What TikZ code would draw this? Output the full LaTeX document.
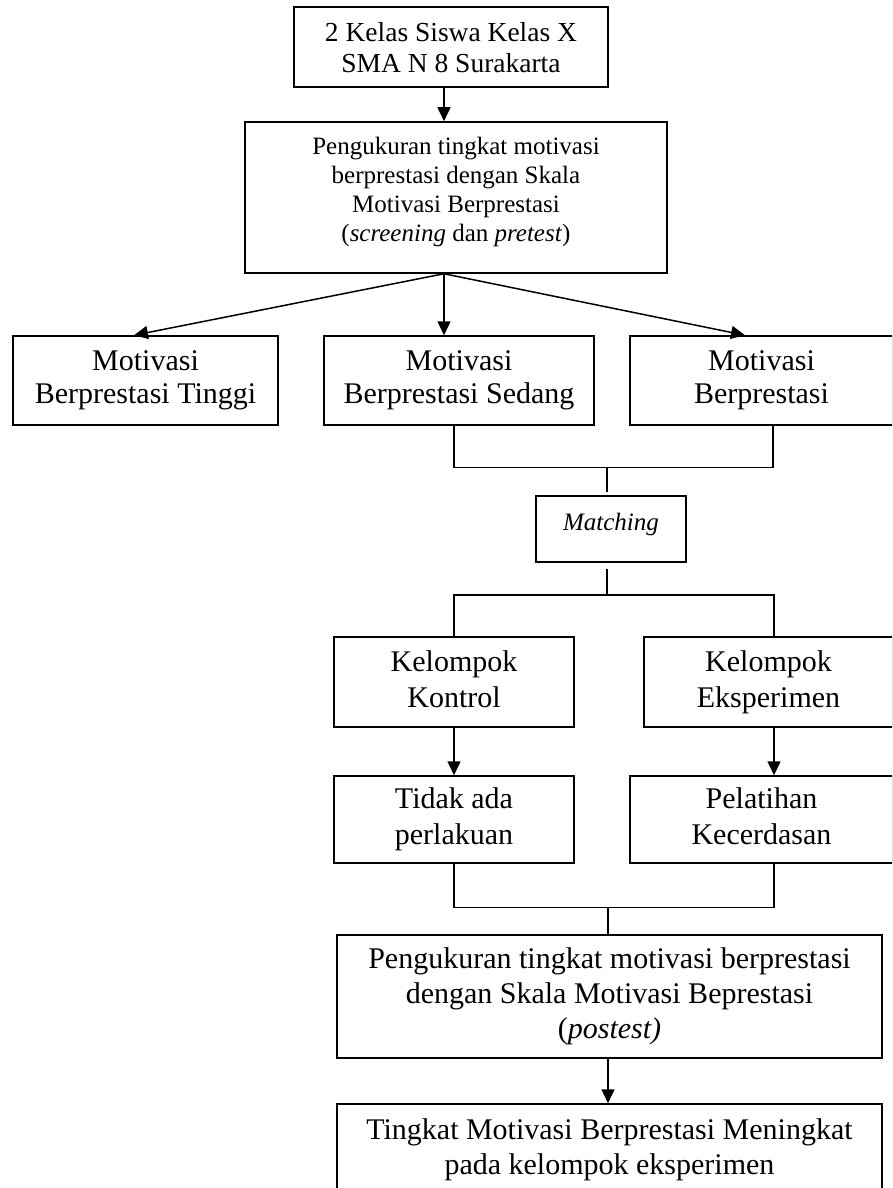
\documentclass[tikz,border=0pt]{standalone}
\usepackage{fontspec}
\setmainfont{Liberation Serif}
\usetikzlibrary{arrows.meta,calc}
\begin{document}
\begin{tikzpicture}[x=1pt,y=-1pt,
  box/.style={draw,line width=1.5pt,align=center,inner sep=0pt},
  ln/.style={line width=1.5pt},
  arr/.style={ln,-{Triangle[length=14pt,width=13pt]}},
  fa/.style={font=\fontsize{27.5}{31}\selectfont},
  fb/.style={font=\fontsize{25}{29}\selectfont},
  fc/.style={font=\fontsize{30}{33}\selectfont},
  fd/.style={font=\fontsize{30}{36}\selectfont},
  fe/.style={font=\fontsize{30}{35}\selectfont}]
\clip (0,0) rectangle (892,1188);
\fill[white] (0,0) rectangle (892,1188);

\node[box,fa,minimum width=314pt,minimum height=80pt] (top) at (451,47) {\rule{0pt}{30pt}2 Kelas Siswa Kelas X\\\strut SMA N 8 Surakarta};
\node[box,fb,minimum width=422pt,minimum height=151pt] (sec) at (456,197.5) {\strut Pengukuran tingkat motivasi\\\strut berprestasi dengan Skala\\\strut Motivasi Berprestasi\\\strut(\textit{screening} dan \textit{pretest})\rule[-20pt]{0pt}{1pt}};

\node[box,fc,minimum width=265pt,minimum height=89pt] (b1) at (145.5,380.5) {\strut Motivasi\\\strut Berprestasi Tinggi};
\node[box,fc,minimum width=270pt,minimum height=89pt] (b2) at (459,380.5) {\strut Motivasi\\\strut Berprestasi Sedang};
\node[box,fc,minimum width=263pt,minimum height=89pt] (b3) at (761.5,380.5) {\strut Motivasi\\\strut Berprestasi};

\node[box,fb,minimum width=150pt,minimum height=66pt] (match) at (611,529) {\raisebox{5pt}[\height][\depth]{\textit{Matching}}};

\node[box,fd,minimum width=240pt,minimum height=90pt] (kon) at (454,682) {\strut Kelompok\\\strut Kontrol};
\node[box,fd,minimum width=249pt,minimum height=90pt] (eks) at (768.5,682) {\strut Kelompok\\\strut Eksperimen};
\node[box,fd,minimum width=240pt,minimum height=87pt] (tid) at (454,819.5) {\strut Tidak ada\\\strut perlakuan};
\node[box,fd,minimum width=263pt,minimum height=87pt] (pel) at (761.5,819.5) {\strut Pelatihan\\\strut Kecerdasan};

\node[box,fe,minimum width=545pt,minimum height=123pt] (post) at (609.5,996.5) {\strut Pengukuran tingkat motivasi berprestasi\\\strut dengan Skala Motivasi Beprestasi\\\strut(\textit{postest)}};
\node[box,fe,minimum width=545pt,minimum height=92pt] (fin) at (609.5,1150) {\strut Tingkat Motivasi Berprestasi Meningkat\\\strut pada kelompok eksperimen};

% connectors
\draw[arr] ([xshift=-7pt]top.south) -- ([xshift=-12pt]sec.north);
\coordinate (fork) at ([xshift=-12pt]sec.south);
\draw[arr] (fork) -- ([xshift=-11.5pt]b1.north);
\draw[arr] (fork) -- ([xshift=-15pt]b2.north);
\draw[arr] (fork) -- ([xshift=-16.5pt]b3.north);

\path ([xshift=-4pt,yshift=28pt]match.north) coordinate (j1);
\draw[ln] ([xshift=-5pt]b2.south) |- (j1) -| ([xshift=11.5pt]b3.south);
\draw[ln] (j1) -- ([xshift=-4pt,yshift=3pt]match.north);

\path ([xshift=-4pt,yshift=-32pt]match.south) coordinate (j2);
\draw[ln] ([xshift=-4pt,yshift=-6pt]match.south) -- (j2);
\draw[ln] (kon.north) |- (j2) -| ([xshift=5.5pt]eks.north);

\draw[arr] (kon) -- (tid);
\draw[arr] ([xshift=5.5pt]eks.south) -- ([xshift=12.5pt]pel.north);

\path ([xshift=-1.5pt,yshift=27pt]post.north) coordinate (j3);
\draw[ln] (tid.south) |- (j3) -| ([xshift=12.5pt]pel.south);
\draw[ln] (j3) -- ([xshift=-1.5pt]post.north);

\draw[arr] ([xshift=-1.5pt]post.south) -- ([xshift=-1.5pt]fin.north);
\end{tikzpicture}
\end{document}
